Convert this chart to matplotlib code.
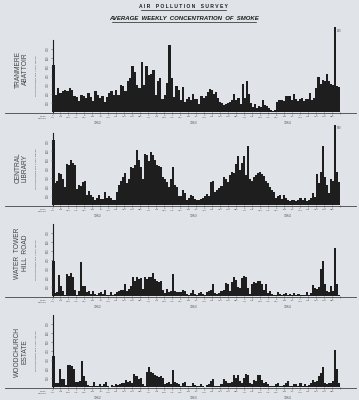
import numpy as np
import matplotlib.pyplot as plt
from matplotlib.lines import Line2D

W, H = 359, 400
PAPER = '#e0e3e7'
INK = '#1e1e1e'

# weekly smoke concentration, in hundreds of micrograms per cubic metre,
# each station read in two stretches: start of chart to mid-chart, then mid-chart to the end
tranmere_1 = [5.2, 1.9, 2.7, 2.1, 2.3, 2.5, 2.3, 2.7, 2.5, 1.8, 1.7, 1.2, 1.9, 1.8, 1.6, 2.1,
              1.7, 1.2, 2.3, 1.9, 1.6, 1.8, 1.1, 1.7, 2.1, 2.3, 1.9, 2.5, 1.9, 3.0, 2.9, 2.3,
              3.4, 3.8, 5.1, 4.5, 3.0, 2.7, 5.6, 3.0, 5.1, 4.1, 4.2, 4.7, 1.9, 3.4, 3.8, 1.4,
              1.9, 3.2, 7.4, 3.8, 1.7, 2.9, 2.5]
tranmere_2 = [1.3, 2.8, 1.1, 1.5, 1.7, 1.3, 2.0, 1.5, 1.5, 0.9, 1.8, 1.6, 1.8, 2.2, 2.6, 2.4,
              2.0, 2.2, 1.6, 1.1, 1.0, 0.8, 0.9, 1.0, 1.1, 1.3, 2.0, 1.3, 1.6, 0.9, 3.1, 1.6,
              3.4, 2.0, 1.0, 0.6, 0.9, 0.5, 0.7, 0.6, 1.3, 0.8, 0.7, 0.4, 0.2, 0.1, 0.2, 1.1,
              1.3, 1.3, 1.2, 1.8, 1.8, 1.8, 1.3, 2.0, 1.5, 1.2, 1.4, 1.6, 1.2, 1.5, 1.5, 2.1,
              1.3, 1.6, 2.7, 3.9, 3.1, 3.6, 3.4, 4.2, 3.4, 3.1, 3.0, 9.4, 2.9, 2.8]

central_1 = [7.2, 2.4, 2.7, 3.6, 3.5, 2.9, 2.0, 4.6, 4.4, 5.0, 4.7, 4.4, 1.8, 2.2, 2.1, 2.6,
             2.7, 1.1, 1.5, 1.1, 0.9, 0.5, 0.8, 1.1, 0.7, 0.7, 1.4, 0.8, 1.0, 0.8, 0.5, 0.5,
             1.4, 2.2, 2.7, 3.1, 3.6, 2.4, 2.9, 4.2, 4.1, 4.4, 6.1, 5.0, 4.2, 2.9, 5.7, 5.6,
             4.9, 5.9, 5.6, 5.0, 4.5, 4.3, 4.2, 3.1, 2.9, 2.6, 2.0, 2.9, 4.2, 2.2, 2.0, 1.0]
central_2 = [1.0, 1.7, 1.3, 0.6, 0.8, 1.1, 1.0, 0.7, 0.6, 0.6, 0.7, 0.8, 1.0, 1.2, 1.0, 2.6,
             2.7, 1.4, 1.7, 1.9, 2.1, 3.1, 2.9, 2.6, 3.3, 3.7, 3.6, 4.6, 5.4, 3.9, 4.7, 5.5,
             3.3, 6.6, 2.9, 2.7, 3.1, 3.3, 3.6, 3.7, 3.4, 3.2, 2.7, 2.4, 2.0, 1.7, 1.4, 0.8,
             1.0, 1.1, 0.7, 1.1, 0.8, 0.6, 0.4, 0.6, 0.5, 0.4, 0.6, 0.8, 0.6, 0.8, 0.4, 0.6,
             0.8, 1.3, 0.9, 3.5, 2.4, 3.7, 6.6, 3.1, 2.2, 1.3, 2.9, 2.7, 8.9, 3.7, 2.6]

water_tower_1 = [3.9, 0.3, 0.4, 2.3, 1.1, 0.6, 0.1, 2.4, 2.2, 2.6, 2.1, 0.7, 0.1, 0.6, 3.8, 1.1,
                 1.1, 0.4, 0.6, 0.2, 0.6, 0.2, 0.1, 0.3, 0.4, 0.2, 0.7, 0.1, 0.1, 0.4, 0.1, 0.2,
                 0.4, 0.6, 0.7, 0.7, 1.3, 0.6, 0.8, 1.1, 2.1, 1.7, 2.1, 1.9, 2.0, 0.8, 2.1, 1.9,
                 2.1, 2.1, 2.6, 1.9, 1.7, 1.6, 1.7, 0.7, 0.3, 0.8, 0.4, 0.6, 2.4, 0.6, 0.4, 0.5]
water_tower_2 = [0.4, 0.7, 0.6, 0.2, 0.1, 0.3, 0.7, 0.2, 0.1, 0.3, 0.4, 0.2, 0.1, 0.4, 0.6, 0.7,
                 1.3, 0.3, 0.2, 0.3, 0.6, 0.7, 1.4, 1.3, 0.6, 1.6, 2.1, 1.8, 1.0, 0.9, 2.0, 2.2,
                 2.1, 0.9, 0.2, 1.3, 1.6, 1.4, 1.7, 1.7, 1.3, 0.7, 1.3, 0.3, 0.6, 0.2, 0.1, 0.1,
                 0.5, 0.2, 0.1, 0.2, 0.3, 0.1, 0.2, 0.1, 0.3, 0.1, 0.2, 0.1, 0.1, 0.1, 0.5, 0.1,
                 0.3, 1.2, 0.9, 0.8, 1.0, 3.0, 3.9, 1.3, 0.6, 0.5, 1.1, 0.6, 5.3, 1.3, 0.1]

woodchurch_1 = [3.4, 0.4, 0.4, 2.0, 0.9, 0.9, 0.2, 2.5, 2.4, 2.3, 2.0, 0.6, 0.6, 0.7, 2.9, 1.2,
                0.7, 0.2, 0.1, 0.1, 0.6, 0.1, 0.1, 0.3, 0.1, 0.3, 0.6, 0.1, 0.0, 0.2, 0.1, 0.3,
                0.2, 0.3, 0.4, 0.4, 0.8, 0.6, 0.7, 0.4, 1.4, 1.2, 0.9, 1.0, 0.3, 0.1, 1.7, 2.2,
                1.7, 1.6, 1.3, 1.2, 1.1, 1.2, 1.0, 0.3, 0.4, 0.6, 0.3, 1.9, 0.6, 0.4, 0.3]
woodchurch_2 = [0.1, 0.4, 0.6, 0.1, 0.1, 0.1, 0.4, 0.2, 0.1, 0.1, 0.3, 0.1, 0.0, 0.2, 0.3, 0.7,
                0.9, 0.1, 0.1, 0.1, 0.3, 0.9, 0.7, 0.5, 0.4, 0.6, 1.3, 1.0, 1.3, 0.7, 0.4, 1.0,
                1.4, 1.3, 0.4, 0.3, 0.8, 0.7, 1.3, 1.3, 0.8, 0.4, 0.6, 0.3, 0.1, 0.1, 0.1, 0.3,
                0.4, 0.1, 0.1, 0.2, 0.4, 0.7, 0.1, 0.1, 0.3, 0.3, 0.1, 0.4, 0.1, 0.3, 0.1, 0.2,
                0.4, 0.8, 0.6, 0.7, 1.2, 1.6, 2.2, 0.5, 0.3, 0.4, 0.4, 0.7, 4.1, 2.0, 0.4]

stations = ['TRANMERE\nABATTOIR', 'CENTRAL\nLIBRARY', 'WATER  TOWER\nHILL  ROAD', 'WOODCHURCH\nESTATE']
series = [(tranmere_1, tranmere_2), (central_1, central_2),
          (water_tower_1, water_tower_2), (woodchurch_1, woodchurch_2)]

years = ['1962', '1963', '1964']
year_pos = [5.6, 17.6, 29.4]
month_top = ['6', '3', '3', '7', '5', '2', '7', '4', '1', '6', '3', '1'] * 3
month_bot = ['JAN', 'FEB', 'MAR', 'APR', 'MAY', 'JUN', 'JUL', 'AUG', 'SEP', 'OCT', 'NOV', 'DEC'] * 3
y_ticks = [1, 2, 3, 4, 5, 6, 7]
y_labels = ['100', '200', '300', '400', '500', '600', '700']

# pixel layout of the scan
left_px, mid_px, right_px = 52.5, 180, 340
baselines = [112, 205, 296, 387]
label_centres = [69, 168, 253, 352]
panel_px = 72  # 8 units of 9 px
split_month = (mid_px - left_px) / (right_px - left_px) * 36

fig = plt.figure(figsize=(W / 100, H / 100), dpi=100, facecolor=PAPER)


def fx(x):
    return x / W


def fy(y):
    return 1 - y / H


fig.text(fx(183), fy(6.5), 'A I R    P O L L U T I O N    S U R V E Y', ha='center', va='center',
         fontsize=3.6, fontweight='bold', family='Liberation Sans', color=INK)
fig.add_artist(Line2D([fx(141), fx(226)], [fy(10), fy(10)], lw=0.5, color=INK))
fig.text(fx(184), fy(18.5), 'AVERAGE  WEEKLY  CONCENTRATION  OF  SMOKE', ha='center', va='center',
         fontsize=4.3, fontstyle='italic', fontweight='bold', family='Liberation Sans', color=INK)
fig.add_artist(Line2D([fx(112), fx(256)], [fy(22), fy(22)], lw=0.5, color=INK))

for name, (first, second), base, lc in zip(stations, series, baselines, label_centres):
    ax = fig.add_axes([fx(left_px), fy(base), (right_px - left_px) / W, panel_px / H])
    ax.set_facecolor('none')
    w1 = split_month / len(first)
    w2 = (36 - split_month) / len(second)
    x1 = (np.arange(len(first)) + 0.5) * w1
    x2 = split_month + (np.arange(len(second)) + 0.5) * w2
    ax.bar(x1, first, width=w1 * 1.02, color=INK, linewidth=0, clip_on=False)
    ax.bar(x2, second, width=w2 * 1.02, color=INK, linewidth=0, clip_on=False)
    ax.set_xlim(0, 36)
    ax.set_ylim(0, 8)
    for s in ['top', 'right', 'bottom']:
        ax.spines[s].set_visible(False)
    ax.spines['left'].set_bounds(0, 8)
    ax.spines['left'].set_linewidth(0.8)
    ax.spines['left'].set_color(INK)
    ax.set_yticks(y_ticks)
    ax.set_yticklabels(y_labels, rotation=90, fontsize=1.8, color='#555555', va='center')
    ax.tick_params(axis='y', length=1.2, width=0.4, pad=0.8, colors='#555555')
    ax.set_xticks(np.arange(37))
    ax.set_xticklabels([f'{a}\n{b}' for a, b in zip(month_top + [''], month_bot + [''])],
                       fontsize=1.6, color='#555555', linespacing=1.4)
    ax.tick_params(axis='x', length=1.5, width=0.4, pad=0.6, colors='#555555')

    # values above the scale are written beside the bar
    for xi, v in zip(x2, second):
        if v > 8:
            ax.text(xi + 0.25, v - 0.15, f'{int(round(v * 100))}', fontsize=1.8, color='#555555',
                    ha='left', va='top')

    ax.text(-0.055, 0.5, 'MICROGRAMMES PER CUBIC METRE', transform=ax.transAxes, rotation=90,
            fontsize=1.6, color='#555555', ha='center', va='center')
    ax.text(-0.02, -0.06, 'WEEK\nENDING', transform=ax.transAxes, fontsize=1.6, color='#555555',
            ha='right', va='top')
    for yr, yp in zip(years, year_pos):
        ax.text(yp, -1.0, yr, fontsize=2.2, color='#555555', ha='center', va='top')

    fig.text(fx(21.5), fy(lc), name, rotation=90, ha='center', va='center', fontsize=4.8,
             family='Liberation Sans', color='#444444', linespacing=1.05, multialignment='center')
    fig.add_artist(Line2D([fx(5), fx(356)], [fy(base + 0.5), fy(base + 0.5)], lw=0.6, color='#444444'))

fig.savefig('out.png', dpi=100, facecolor=PAPER)
